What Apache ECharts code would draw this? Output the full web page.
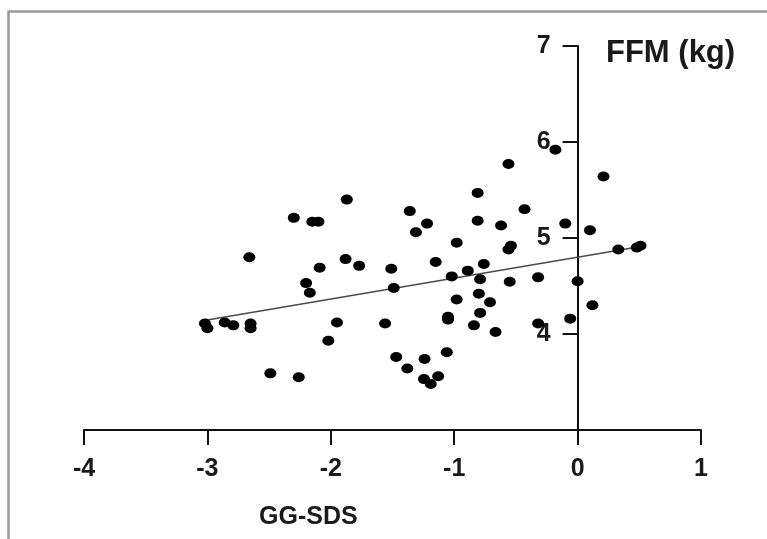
<!DOCTYPE html>
<html>
<head>
<meta charset="utf-8">
<script src="https://cdn.jsdelivr.net/npm/echarts@6/dist/echarts.min.js"></script>
<style>
html,body{margin:0;padding:0;background:#fff;}
#chart{width:767px;height:539px;}
</style>
</head>
<body>
<div id="chart"></div>
<script>
// GG-SDS values (x)
const xValues = [-0.18,-0.56,0.21,-0.81,-1.87,-0.43,-1.36,-2.30,-2.15,-2.10,-1.22,-0.81,-0.62,-0.10,0.10,-1.31,-0.98,-0.54,-0.56,0.33,0.48,0.51,-2.66,-1.88,-1.15,-0.76,-1.77,-2.09,-1.51,-0.89,-1.02,-0.79,-0.55,-0.32,0.00,-2.20,-2.17,-1.49,-0.80,-0.98,-0.71,0.12,-0.79,-1.05,-1.05,-0.06,-3.02,-3.00,-2.86,-2.79,-2.65,-2.65,-1.95,-1.56,-0.84,-0.32,-0.665,-2.02,-1.06,-1.47,-1.24,-1.38,-2.49,-2.26,-1.245,-1.19,-1.13];
// FFM (kg) values (y)
const yValues = [5.92,5.77,5.64,5.47,5.40,5.30,5.28,5.21,5.17,5.17,5.15,5.18,5.13,5.15,5.08,5.06,4.95,4.92,4.88,4.88,4.90,4.92,4.80,4.78,4.75,4.73,4.71,4.69,4.68,4.66,4.60,4.57,4.545,4.59,4.55,4.53,4.43,4.48,4.42,4.36,4.33,4.30,4.22,4.18,4.15,4.16,4.11,4.06,4.12,4.09,4.11,4.06,4.12,4.11,4.09,4.11,4.02,3.93,3.81,3.76,3.74,3.64,3.59,3.55,3.53,3.48,3.56];
// regression line end points
const trendX = [-3.05, 0.5];
const trendY = [4.135, 4.91];
// axis ticks
const xTicks = [-4,-3,-2,-1,0,1];
const yTicks = [3,4,5,6,7];
const xName = 'GG-SDS';
const yName = 'FFM (kg)';

const FONT = "'Liberation Sans', Arial, sans-serif";
const W = 767, GL = 84, GR = 66;
const xMin = xTicks[0], xMax = xTicks[xTicks.length-1];
// y axis crosses at x = 0: shift the left axis inward by the scale position of 0
const yAxisOffset = -((0 - xMin) / (xMax - xMin)) * (W - GL - GR);

const chart = echarts.init(document.getElementById('chart'), null, {renderer:'canvas'});
chart.setOption({
  animation:false,
  backgroundColor:'#fff',
  graphic:[{
    type:'rect', left:6, top:9, shape:{width:800, height:560},
    style:{fill:'none', stroke:'#9a9a9a', lineWidth:2.5}, silent:true
  }],
  title:[
    {text:yName, left:606, top:38, padding:0,
     textStyle:{fontFamily:FONT, fontWeight:'bold', fontSize:31, color:'#1a1a1a'}},
    {text:xName, left:259, top:505, padding:0,
     textStyle:{fontFamily:FONT, fontWeight:'bold', fontSize:25, color:'#1a1a1a'}}
  ],
  grid:{left:GL, right:GR, top:46, bottom:109, containLabel:false},
  xAxis:{
    type:'value', min:xMin, max:xMax, interval:1,
    splitLine:{show:false},
    axisLine:{onZero:false, lineStyle:{color:'#111', width:2}},
    axisTick:{length:15, lineStyle:{color:'#111', width:2}},
    axisLabel:{margin:27, fontFamily:FONT, fontWeight:'bold', fontSize:25, color:'#1a1a1a'}
  },
  yAxis:{
    type:'value', min:yTicks[0], max:yTicks[yTicks.length-1], interval:1,
    position:'left', offset:yAxisOffset,
    splitLine:{show:false},
    axisLine:{onZero:false, lineStyle:{color:'#111', width:2}},
    axisTick:{length:15, lineStyle:{color:'#111', width:2}},
    axisLabel:{margin:27, fontFamily:FONT, fontWeight:'bold', fontSize:25, color:'#1a1a1a',
      formatter:function(v){return v===yTicks[0] ? '' : String(v);}}
  },
  series:[
    {type:'line', data:trendX.map((x,i)=>[x,trendY[i]]), symbol:'none',
     lineStyle:{color:'#4a4a4a', width:1.5}, z:1},
    {type:'scatter', data:xValues.map((x,i)=>[x,yValues[i]]), symbol:'circle',
     symbolSize:[12,10], itemStyle:{color:'#000', opacity:1}, z:2}
  ]
});
</script>
</body>
</html>
